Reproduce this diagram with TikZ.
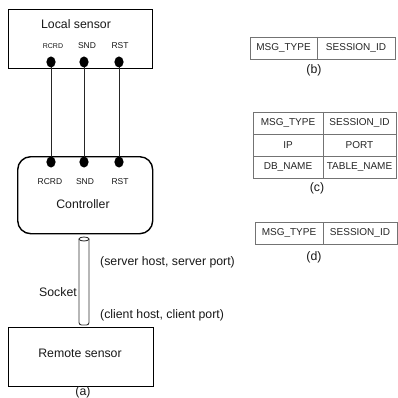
\documentclass[tikz,border=0pt]{standalone}
\usepackage{fontspec}
\setmainfont{Liberation Sans}
\begin{document}
\begin{tikzpicture}[x=1pt,y=-1pt,
  box/.style={draw=black,line width=1.4pt},
  big/.style={font=\fontsize{12.3}{14}\selectfont,inner sep=0pt,text=black!90},
  pin/.style={font=\fontsize{8.5}{10}\selectfont,inner sep=0pt,text=black!90},
  pinsmall/.style={font=\fontsize{7}{8}\selectfont,inner sep=0pt,text=black!90},
  dot/.style={fill=black,draw=none},
  wire/.style={line width=0.9pt,draw=black!85},
  tab/.style={draw=black!55,line width=0.8pt},
  cell/.style={font=\fontsize{10}{12}\selectfont,inner sep=0pt,text=black!85},
  captext/.style={font=\fontsize{12.3}{14}\selectfont,inner sep=0pt,text=black!90}]
\useasboundingbox (0,0) rectangle (398,398);
\fill[white] (0,0) rectangle (398,398);

% Local sensor
\node[box,draw,minimum width=144pt,minimum height=59pt,anchor=north west,inner sep=0pt] (local) at (8,9) {};
\node[big] (localt) at (76,24) {Local sensor};
\node[pinsmall] (l1t) at (53,46) {RCRD};
\node[pin] (l2t) at (87,46) {SND};
\node[pin] (l3t) at (120,46) {RST};

% Controller
\node[box,draw,rounded corners=13pt,minimum width=135pt,minimum height=77pt,anchor=north west,inner sep=0pt] (ctrl) at (17,156) {};
\node[big] (ctrlt) at (83,204) {Controller};
\node[pin] (c1t) at (50,182) {RCRD};
\node[pin] (c2t) at (85,182) {SND};
\node[pin] (c3t) at (120,182) {RST};

% dots
\coordinate (la) at (51,62);
\coordinate (lb) at (84,62);
\coordinate (lc) at (119,62);
\coordinate (ca) at (51,162);
\coordinate (cb) at (84,162);
\coordinate (cc) at (119,162);
\draw[wire] (la) -- (ca);
\draw[wire] (lb) -- (cb);
\draw[wire] (lc) -- (cc);
\foreach \p in {la,lb,lc,ca,cb,cc}{
  \fill[dot] (\p) ellipse [x radius=4.6pt, y radius=5.5pt];
}

% Socket cylinder
\node[draw=none,minimum width=10pt,minimum height=88pt,anchor=north west,inner sep=0pt] (sock) at (79,237) {};
\draw[line width=0.9pt,draw=black!80,rounded corners=2.5pt] (79,239) -- (79,325) -- (89,325) -- (89,239);
\draw[line width=0.9pt,draw=black!80] (84,239) ellipse [x radius=5pt, y radius=2pt];
\node[big,anchor=east] (sockt) at (77,292) {Socket};
\node[big,anchor=west] (srv) at (100,262) {(server host, server port)};
\node[big,anchor=west] (cli) at (100,315) {(client host, client port)};

% Remote sensor
\node[box,draw,minimum width=145pt,minimum height=59pt,anchor=north west,inner sep=0pt] (remote) at (8,327) {};
\node[big] (remotet) at (80,353) {Remote sensor};
\node[captext] (capa) at (83,392) {(a)};

% Table (b)
\draw[tab] (250,37) rectangle (395,59);
\draw[tab] (317,37) -- (317,59);
\node[cell] (b1) at (283.5,48) {MSG\_TYPE};
\node[cell] (b2) at (356,48) {SESSION\_ID};
\node[captext] (capb) at (314,70) {(b)};

% Table (c)
\draw[tab] (253,112) rectangle (396,178);
\draw[tab] (253,134) -- (396,134);
\draw[tab] (253,156) -- (396,156);
\draw[tab] (323,112) -- (323,178);
\node[cell] (c11) at (288,123) {MSG\_TYPE};
\node[cell] (c12) at (359.5,123) {SESSION\_ID};
\node[cell] (c21) at (288,145) {IP};
\node[cell] (c22) at (359.5,145) {PORT};
\node[cell] (c31) at (288,167) {DB\_NAME};
\node[cell] (c32) at (359.5,167) {TABLE\_NAME};
\node[captext] (capc) at (317,188) {(c)};

% Table (d)
\draw[tab] (255,222) rectangle (397.5,244);
\draw[tab] (323,222) -- (323,244);
\node[cell] (d1) at (289,233) {MSG\_TYPE};
\node[cell] (d2) at (360,233) {SESSION\_ID};
\node[captext] (capd) at (314,257) {(d)};
\end{tikzpicture}
\end{document}
